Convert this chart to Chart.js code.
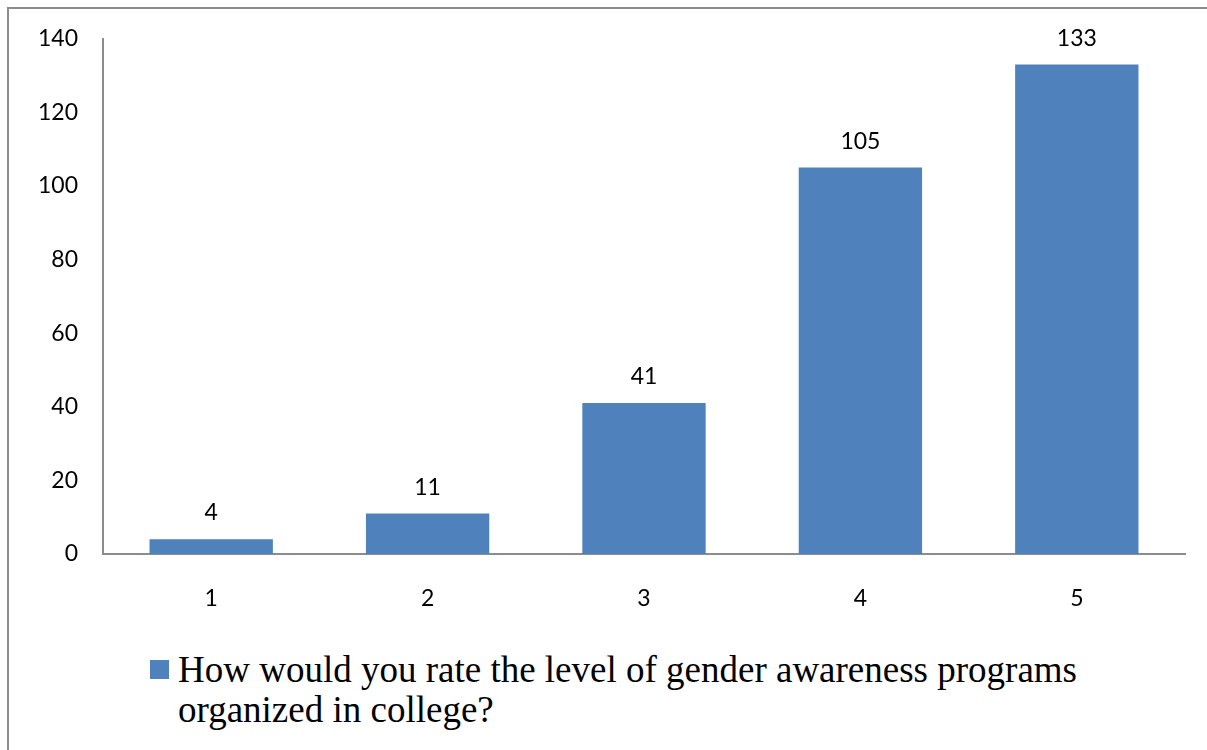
<!DOCTYPE html>
<html lang="en">
<head>
  <meta charset="UTF-8">
  <title>Gender awareness programs rating</title>
  <script src="https://cdn.jsdelivr.net/npm/chart.js"></script>
  <style>
    body {
      margin: 0;
      background-color: #ffffff;
    }
    #frame {
      position: absolute;
      left: 7px;
      top: 7px;
      width: 1200px;
      height: 743px;
      border-left: 2px solid #8c8c8c;
      border-top: 2px solid #8c8c8c;
    }
    #chart-container {
      position: absolute;
      left: 0;
      top: 0;
      width: 1207px;
      height: 640px;
    }
    #legend {
      position: absolute;
      left: 150px;
      top: 650px;
      width: 960px;
      font-family: "Liberation Serif", "Times New Roman", serif;
      font-size: 37px;
      line-height: 40px;
      color: #000;
    }
    #legend .box {
      position: absolute;
      left: 0;
      top: 10px;
      width: 19px;
      height: 19px;
    }
    #legend .text {
      margin-left: 28px;
    }
  </style>
</head>
<body>
  <div id="frame"></div>
  <div id="chart-container">
    <canvas id="barChart"></canvas>
  </div>
  <div id="legend"><span class="box"></span><div class="text"></div></div>

  <script>
    // rating scale 1..5 and number of responses
    const ratings = ['1', '2', '3', '4', '5'];
    const responses = [4, 11, 41, 105, 133];
    const seriesLabel = 'How would you rate the level of gender awareness programs organized in college?';
    const yTicks = [0, 20, 40, 60, 80, 100, 120, 140];

    const barColor = '#4f81bd';
    const axisColor = '#8c8c8c';
    const tickFont = { family: 'Lato, "Open Sans", sans-serif', size: 23 };

    // draw the value above each bar
    const valueLabels = {
      id: 'valueLabels',
      afterDatasetsDraw(chart) {
        const ctx = chart.ctx;
        ctx.save();
        ctx.font = '23px Lato, "Open Sans", sans-serif';
        ctx.fillStyle = '#000';
        ctx.textAlign = 'center';
        ctx.textBaseline = 'alphabetic';
        chart.getDatasetMeta(0).data.forEach(function(bar, i) {
          ctx.fillText(String(chart.data.datasets[0].data[i]), bar.x, bar.y - 19);
        });
        ctx.restore();
      }
    };

    const ctx = document.getElementById('barChart').getContext('2d');
    const chart = new Chart(ctx, {
      type: 'bar',
      data: {
        labels: ratings,
        datasets: [
          {
            label: seriesLabel,
            data: responses,
            backgroundColor: barColor,
            borderWidth: 0,
            categoryPercentage: 1,
            barPercentage: 0.57
          }
        ]
      },
      options: {
        responsive: true,
        maintainAspectRatio: false,
        animation: false,
        layout: {
          padding: { top: 37, right: 22, left: 0, bottom: 0 }
        },
        plugins: {
          legend: { display: false },
          tooltip: { enabled: false }
        },
        scales: {
          x: {
            grid: { display: false, drawTicks: false },
            border: { display: true, color: axisColor, width: 2 },
            ticks: { color: '#000', font: tickFont, padding: 31 },
            afterFit: function(scale) { scale.height = 86; }
          },
          y: {
            min: 0,
            max: 140,
            afterBuildTicks: function(scale) {
              scale.ticks = yTicks.map(function(v) { return { value: v }; });
            },
            grid: { display: false, drawTicks: false },
            border: { display: true, color: axisColor, width: 2 },
            ticks: { color: '#000', font: tickFont, padding: 25 },
            afterFit: function(scale) { scale.width = 103; }
          }
        }
      },
      plugins: [valueLabels]
    });

    // legend below the chart, wrapped like the original
    document.querySelector('#legend .box').style.backgroundColor = barColor;
    document.querySelector('#legend .text').textContent = chart.data.datasets[0].label;
  </script>
</body>
</html>
